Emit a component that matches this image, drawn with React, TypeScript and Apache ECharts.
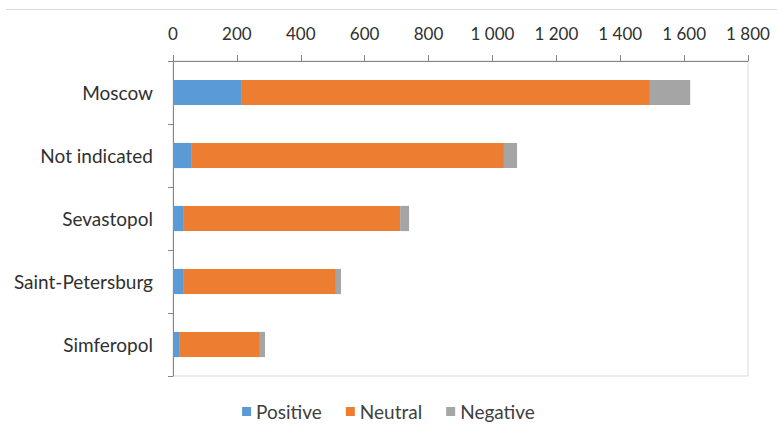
import React, { useEffect, useRef } from "react";
import * as echarts from "echarts";

const categories = ["Moscow", "Not indicated", "Sevastopol", "Saint-Petersburg", "Simferopol"];
const positive = [213, 59, 34, 34, 19];
const neutral = [1280, 977, 677, 476, 253];
const negative = [126, 41, 28, 16, 16];
const seriesNames = ["Positive", "Neutral", "Negative"];
const colors = ["#5B9BD5", "#ED7D31", "#A5A5A5"];

const FONT = "Lato, 'Open Sans', sans-serif";

export default function App() {
  const ref = useRef<HTMLDivElement>(null);
  useEffect(() => {
    if (!ref.current) return;
    const chart = echarts.init(ref.current, undefined, { renderer: "svg" });
    const values = [positive, neutral, negative];
    chart.setOption({
      animation: false,
      backgroundColor: "#ffffff",
      textStyle: { fontFamily: FONT },
      grid: {
        left: 173,
        top: 61,
        right: 29,
        bottom: 53,
        show: true,
        borderColor: "#d9d9d9",
        borderWidth: 1,
      },
      graphic: [
        {
          type: "line",
          shape: { x1: 6, y1: 9.5, x2: 777, y2: 9.5 },
          style: { stroke: "#d9d9d9", lineWidth: 1 },
        },
      ],
      legend: {
        bottom: 3,
        left: "center",
        itemWidth: 9,
        itemHeight: 9,
        itemGap: 24,
        icon: "rect",
        textStyle: { fontFamily: FONT, fontSize: 19, color: "#404040" },
        data: seriesNames,
      },
      xAxis: {
        type: "value",
        position: "top",
        min: 0,
        max: 1800,
        interval: 200,
        axisLine: { show: true, lineStyle: { color: "#868686" } },
        axisTick: { show: true, length: 6, lineStyle: { color: "#868686" } },
        splitLine: { show: false },
        axisLabel: {
          margin: 19,
          fontFamily: FONT,
          fontSize: 17,
          color: "#303030",
          formatter: (v: number) => String(v).replace(/\B(?=(\d{3})+(?!\d))/g, " "),
        },
      },
      yAxis: {
        type: "category",
        inverse: true,
        data: categories,
        axisLine: { show: true, lineStyle: { color: "#868686" } },
        axisTick: { show: true, length: 5, lineStyle: { color: "#868686" } },
        axisLabel: { margin: 20, fontFamily: FONT, fontSize: 19, color: "#303030" },
      },
      series: seriesNames.map((name, i) => ({
        name,
        type: "bar",
        stack: "total",
        barWidth: "40%",
        itemStyle: { color: colors[i] },
        data: values[i],
      })),
    });
    return () => chart.dispose();
  }, []);
  return (
    <div
      ref={ref}
      style={{ position: "fixed", left: 0, top: 0, width: 777, height: 429 }}
    />
  );
}
